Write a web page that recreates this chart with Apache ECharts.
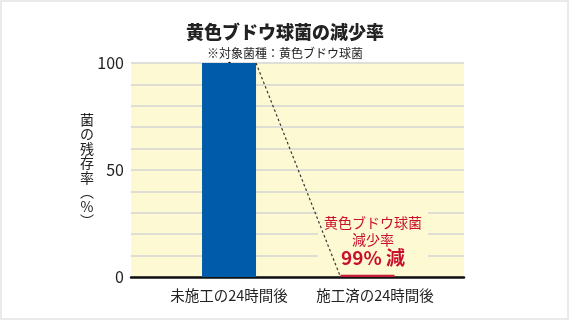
<!DOCTYPE html>
<html><head><meta charset="utf-8">
<script src="https://cdn.jsdelivr.net/npm/echarts@6/dist/echarts.min.js"></script>
<style>html,body{margin:0;padding:0;background:#fff}#c{width:570px;height:321px}</style>
</head><body><div id="c"></div>
<script>
const categories = ['未施工の24時間後', '施工済の24時間後'];
const values = [100, 1];
const yTickLabels = [0, 50, 100];
const barColors = ['#005BAA', '#C41E3A'];
const titleText = '黄色ブドウ球菌の減少率';
const subtitleText = '※対象菌種：黄色ブドウ球菌';
const yAxisName = ['菌', 'の', '残', '存', '率', '︵', '%', '︶'];
const noteLines = ['黄色ブドウ球菌', '減少率', '99% 減'];

const FONT = '"Noto Sans CJK JP", "Noto Sans", sans-serif';
const halfBar = 0.195;

const chart = echarts.init(document.getElementById('c'), null, {renderer: 'canvas'});
chart.setOption({
  animation: false,
  backgroundColor: '#fff',
  title: {
    text: titleText, subtext: subtitleText, left: 'center', top: 18, itemGap: 6,
    textStyle: {fontFamily: FONT, fontSize: 18, fontWeight: 900, color: '#222'},
    subtextStyle: {fontFamily: FONT, fontSize: 12, color: '#222'}
  },
  grid: {left: 131, right: 106, top: 63, bottom: 44, show: true, backgroundColor: '#FDF9D2', borderWidth: 0},
  xAxis: {
    type: 'value', min: -0.708, max: 1.697,
    axisLine: {show: true, lineStyle: {color: '#111', width: 2.5}},
    axisTick: {show: false}, splitLine: {show: false},
    axisLabel: {
      customValues: [0, 1], margin: 11,
      formatter: v => { const i = Math.round(v); return i === 1 ? '{s|' + categories[i] + '}' : (categories[i] || ''); },
      fontFamily: FONT, fontSize: 14.5, color: '#222',
      rich: {s: {fontFamily: FONT, fontSize: 14.5, color: '#222', padding: [0, 0, 0, 15]}}
    }
  },
  yAxis: {
    type: 'value', min: 0, max: 100, interval: 10,
    axisLine: {show: true, lineStyle: {color: '#111', width: 2.5}},
    axisTick: {show: false},
    splitLine: {show: true, lineStyle: {color: '#d4d4d4', width: 1.5}},
    axisLabel: {
      customValues: yTickLabels, margin: 7,
      fontFamily: FONT, fontSize: 16, color: '#222'
    }
  },
  series: [
    {
      type: 'bar', barWidth: 54,
      data: values.map((v, i) => ({value: [i, v], itemStyle: {color: barColors[i]}})),
      z: 3
    },
    {
      type: 'line', symbol: 'none', silent: true,
      data: [[0 + halfBar, values[0]], [1 - halfBar, 0]],
      lineStyle: {color: '#333', width: 1.2, type: [2.5, 2.5]}, z: 4
    }
  ],
  graphic: [
    {type: 'rect', shape: {x: 1, y: 1, width: 567, height: 318}, style: {fill: 'none', stroke: '#e4e4e4', lineWidth: 1.5}, silent: true},
    {type: 'text', x: 87, y: 170, style: {
      text: yAxisName.join('\n'), fontFamily: FONT, fontSize: 14, lineHeight: 14.5,
      fill: '#222', align: 'center', verticalAlign: 'middle'}},
    {type: 'text', x: 373, y: 240, z: 1, style: {
      text: '{a|' + noteLines[0] + '}\n{a|' + noteLines[1] + '}\n{b|' + noteLines[2] + '}',
      align: 'center', verticalAlign: 'middle',
      backgroundColor: '#FDF9D2', padding: [2, 6, 0, 6],
      rich: {
        a: {fontFamily: FONT, fontSize: 14, lineHeight: 17, fill: '#C8102E', align: 'center'},
        b: {fontFamily: FONT, fontSize: 19, fontWeight: 'bold', lineHeight: 20, fill: '#C8102E', align: 'center'}
      }
    }}
  ]
});
</script></body></html>
